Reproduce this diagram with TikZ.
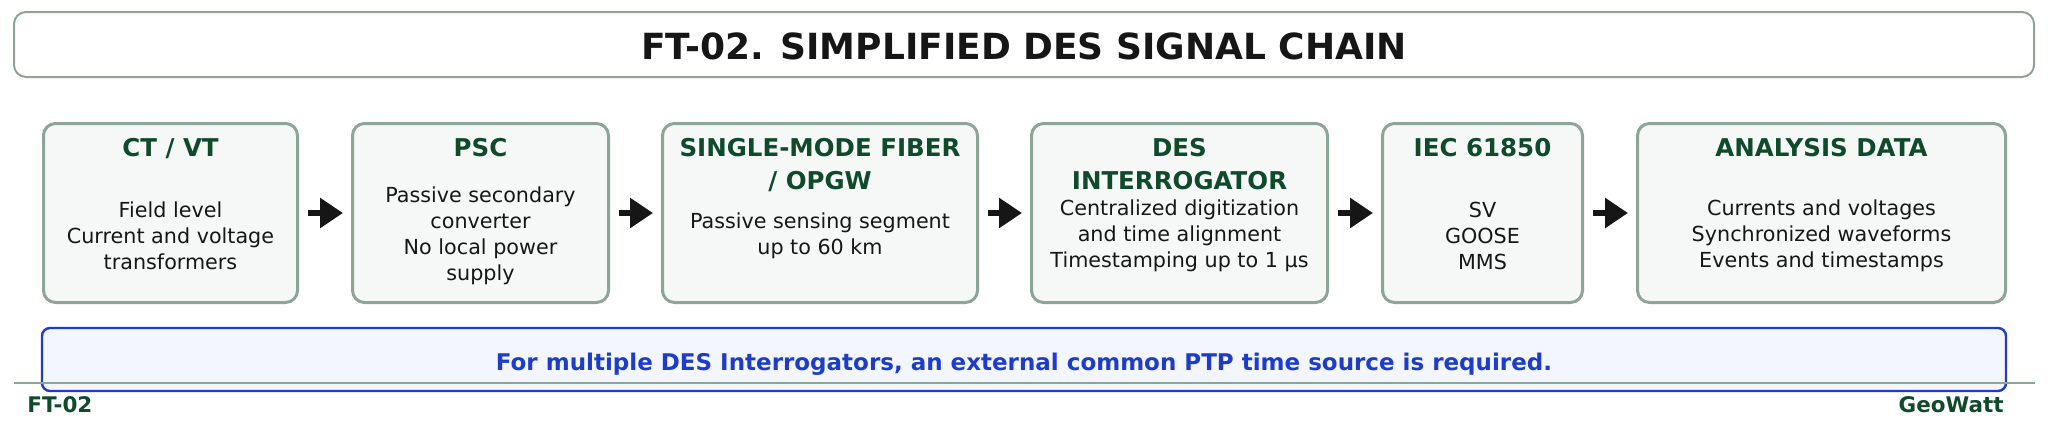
\documentclass[tikz,border=0pt]{standalone}
\usepackage{fontspec}
\setmainfont{DejaVu Sans}
\usetikzlibrary{arrows.meta}
\definecolor{frame}{HTML}{8CA596}
\definecolor{boxfill}{HTML}{F6F8F7}
\definecolor{headgreen}{HTML}{0F4A2B}
\definecolor{bodytext}{HTML}{161616}
\definecolor{notefill}{HTML}{F3F6FE}
\definecolor{noteblue}{HTML}{1C3CC9}
\definecolor{arrowc}{HTML}{161616}
\begin{document}
\begin{tikzpicture}[x=0.5pt,y=-0.5pt,
    stage/.style={draw=frame,fill=boxfill,line width=1.5pt,rounded corners=6pt,
      minimum height=89.5pt,inner sep=0pt},
    head/.style={text=headgreen,font=\fontsize{12.25}{16.5}\selectfont\bfseries,
      align=center,anchor=north,inner sep=0pt},
    body/.style={text=bodytext,font=\fontsize{10.35}{13}\selectfont,
      align=center,inner sep=0pt},
    flow/.style={-{Triangle[length=11.5pt,width=14.5pt]},line width=3pt,draw=arrowc,
      shorten <=4.5pt,shorten >=4pt}]
  \useasboundingbox (0,0) rectangle (2048,430);
  \node[draw=frame,line width=1pt,rounded corners=6pt,minimum width=1010pt,
    minimum height=32.5pt,inner sep=0pt] (titlebox) at (1024,44.5) {};
  \node[text=bodytext,font=\fontsize{18}{20}\selectfont\bfseries] (title) at (1024,46)
    {FT-02. SIMPLIFIED DES SIGNAL CHAIN};
  \draw
    (170.5,213) node[stage,minimum width=127pt] (ctvt){}
    (480.5,213) node[stage,minimum width=128pt] (psc){}
    (820,213) node[stage,minimum width=157.5pt] (fiber){}
    (1179.5,213) node[stage,minimum width=148pt] (interr){}
    (1482.5,213) node[stage,minimum width=100pt] (iec){}
    (1821.5,213) node[stage,minimum width=184pt] (data){};
  \draw
    (170.5,137.5) node[head] (ctvt-h){CT / VT}
    (480.5,137.5) node[head] (psc-h){PSC}
    (820,137.5) node[head] (fiber-h){SINGLE-MODE FIBER\\/ OPGW}
    (1179.5,137.5) node[head] (interr-h){DES\\INTERROGATOR}
    (1482.5,137.5) node[head] (iec-h){IEC 61850}
    (1821.5,137.5) node[head] (data-h){ANALYSIS DATA};
  \draw
    (170.5,236) node[body] (ctvt-b){Field level\\Current and voltage\\transformers}
    (480.5,236) node[body] (psc-b){Passive secondary\\converter\\No local power\\supply}
    (820,236) node[body] (fiber-b){Passive sensing segment\\up to 60 km}
    (1179.5,236) node[body] (interr-b){Centralized digitization\\and time alignment\\Timestamping up to 1 µs}
    (1482.5,236) node[body] (iec-b){SV\\GOOSE\\MMS}
    (1821.5,236) node[body] (data-b){Currents and voltages\\Synchronized waveforms\\Events and timestamps};
  \begin{scope}[flow]
    \draw (ctvt) to (psc);
    \draw (psc) to (fiber);
    \draw (fiber) to (interr);
    \draw (interr) to (iec);
    \draw (iec) to (data);
  \end{scope}
  \node[draw=noteblue,fill=notefill,line width=1.2pt,rounded corners=4pt,minimum width=982pt,
    minimum height=31.5pt,inner sep=0pt] (note) at (1024,359.5) {};
  \node[text=noteblue,font=\fontsize{11.5}{13}\selectfont\bfseries,anchor=base] (note-t) at (1024,370)
    {For multiple DES Interrogators, an external common PTP time source is required.};
  \draw[frame,line width=1pt] (14,383) -- (2035,383);
  \node[text=headgreen,font=\fontsize{10.75}{12}\selectfont\bfseries,anchor=base west,inner sep=0pt]
    (code) at (27,412) {FT-02};
  \node[text=headgreen,font=\fontsize{10.75}{12}\selectfont\bfseries,anchor=base east,inner sep=0pt]
    (brand) at (2004,412) {GeoWatt};
\end{tikzpicture}
\end{document}
